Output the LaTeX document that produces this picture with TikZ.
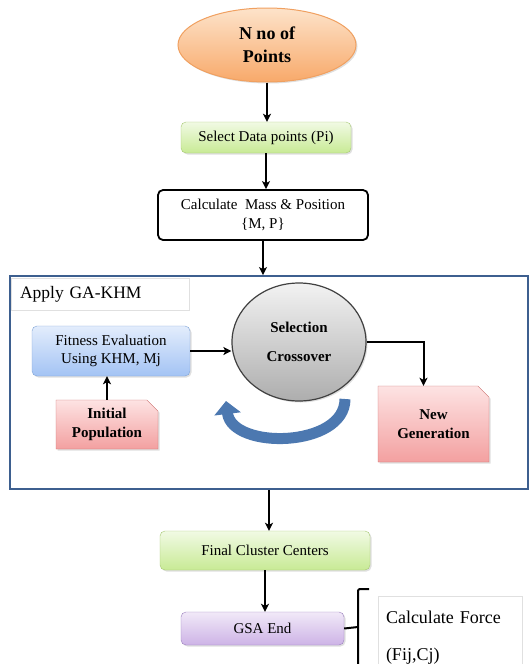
\documentclass[tikz,border=0pt]{standalone}
\usepackage{fontspec}
\setmainfont{Liberation Serif}
\usetikzlibrary{arrows.meta, shapes.geometric, shapes.misc, shadows}
\definecolor{grnline}{HTML}{A6C873}
\definecolor{grntop}{HTML}{F1FAE4}
\definecolor{grnbot}{HTML}{C8EA95}
\definecolor{bluline}{HTML}{7FA3D6}
\definecolor{blutop}{HTML}{E3EDFC}
\definecolor{blubot}{HTML}{A3C3F4}
\definecolor{redline}{HTML}{CD6E6C}
\definecolor{redtop}{HTML}{FDE3E3}
\definecolor{redbot}{HTML}{F3A0A0}
\definecolor{purline}{HTML}{9B80BE}
\definecolor{purtop}{HTML}{F1E9F8}
\definecolor{purbot}{HTML}{CDB3E6}
\definecolor{orgline}{HTML}{F0A060}
\definecolor{orgtop}{HTML}{FDE3CA}
\definecolor{orgbot}{HTML}{F8A96A}
\definecolor{frameline}{HTML}{3D5F8F}
\definecolor{loopblue}{HTML}{4C78B0}
\tikzstyle{arr} = [-{Stealth[length=8pt, width=8pt, inset=2pt]}, line width=2pt]
\tikzstyle{box} = [draw, rounded corners=5pt, align=center, inner sep=1pt, font=\fontsize{15}{18.5}\selectfont]
\tikzstyle{sh} = [drop shadow={opacity=0.25, shadow xshift=1.5pt, shadow yshift=-1.5pt}]
\tikzstyle{greenbox} = [box, sh, draw=grnline, top color=grntop, bottom color=grnbot]
\tikzstyle{bluebox} = [box, sh, draw=bluline, top color=blutop, bottom color=blubot]
\tikzstyle{purplebox} = [box, sh, draw=purline, top color=purtop, bottom color=purbot]
\tikzstyle{redbox} = [chamfered rectangle, chamfered rectangle corners=north east, chamfered rectangle xsep=8pt, sh, draw=redline, top color=redtop, bottom color=redbot, align=center, inner sep=1pt, font=\bfseries\fontsize{15}{19}\selectfont]
\tikzstyle{ell} = [ellipse, sh, draw=orgline, line width=1pt, top color=orgtop, bottom color=orgbot, align=center, inner sep=0pt, font=\bfseries\fontsize{18}{23}\selectfont]
\tikzstyle{tag} = [draw=black!12, align=left, inner xsep=9pt, font=\fontsize{17.5}{20}\selectfont]

\begin{document}
\begin{tikzpicture}[x=1pt, y=-1pt]
    \clip (0,0) rectangle (530,664);

    % main column
    \node[ell, minimum width=178pt, minimum height=74pt] (pts) at (267,45) {N no of\\Points};
    \node[greenbox, minimum width=170pt, minimum height=31pt] (sel) at (266,137.5) {Select Data points (Pi)};
    \node[box, line width=1.8pt, minimum width=210pt, minimum height=50pt] (calc) at (263,215) {Calculate~ Mass \& Position\\\{M, P\}};

    % GA-KHM block
    \node[draw=frameline, line width=1.8pt, minimum width=518pt, minimum height=213pt] (ga) at (269,382.5) {};
    \node[tag, text width=160pt, minimum height=32pt] (lab) at (100,294) {Apply GA-KHM};
    \node[bluebox, minimum width=158pt, minimum height=50pt] (fit) at (111,351) {Fitness Evaluation\\Using KHM, Mj};
    \node[ellipse, sh, draw=black!75, line width=1.2pt, top color=black!5, bottom color=black!32, minimum width=134pt, minimum height=118pt, align=center, inner sep=0pt, font=\bfseries\fontsize{15}{29}\selectfont] (sc) at (299,342) {Selection\\Crossover};
    \node[redbox, minimum width=102pt, minimum height=49pt] (ip) at (107,424.5) {Initial\\Population};
    \node[redbox, minimum width=111pt, minimum height=76pt] (ng) at (433.5,424) {New\\Generation};
    \draw[loopblue, line width=11pt, -{Triangle[width=26pt, length=13pt]}] (345,399) .. controls (345,448) and (232,450) .. (226,401);

    % lower part
    \node[greenbox, minimum width=210pt, minimum height=39pt] (fcc) at (265,550.5) {Final Cluster Centers};
    \node[purplebox, minimum width=163pt, minimum height=33pt] (gsa) at (262.5,628.5) {GSA End};
    \node[draw=black!12, minimum width=144pt, minimum height=84pt, align=left, text width=128pt, font=\fontsize{18}{37}\selectfont] (force) at (450,638) {Calculate Force\\(Fij,Cj)};

    \foreach \f/\t in {pts/sel, sel/calc, calc/ga, ga/fcc, fcc/gsa}
    \draw[arr] (\f.south) -- (\f.south |- \t.north);
    \draw[arr] (ip.north) -- (ip.north |- fit.south);
    \draw[arr] (fit.east) -- (fit.east -| sc.west);
    \draw[arr] (sc.east) -| ([xshift=-10pt]ng.north);

    % brace
    \coordinate (br) at (358,627);
    \draw[line width=2pt] (gsa.east) -- (br);
    \draw[line width=2pt, rounded corners=2pt] (369,589) -- (358,589) -- (358,664);
\end{tikzpicture}
\end{document}
